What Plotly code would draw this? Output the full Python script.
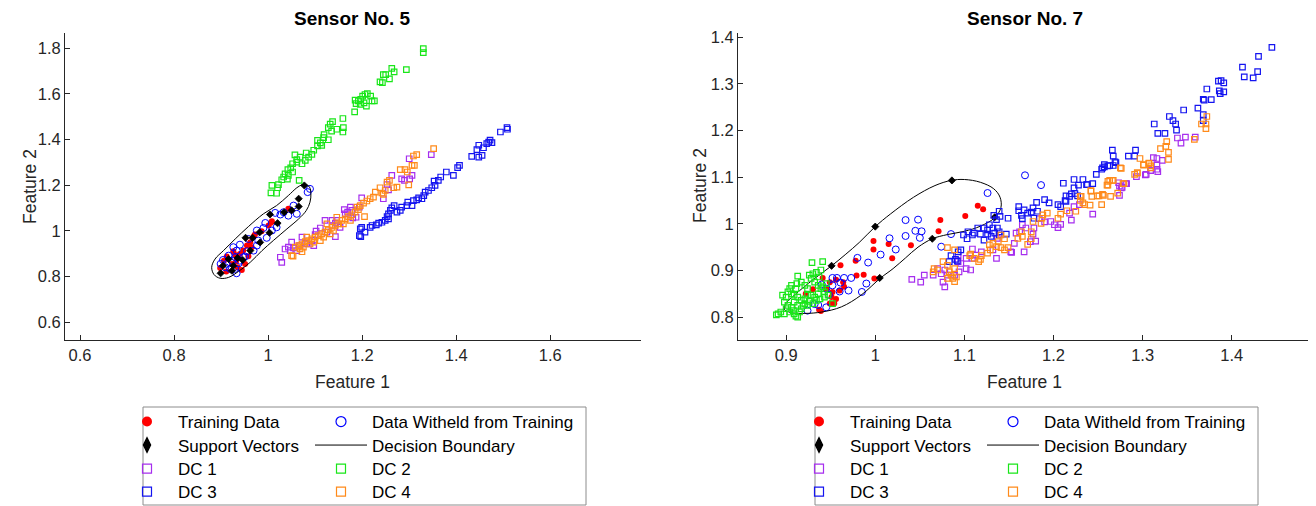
import plotly.graph_objects as go

# The page body adds an 8px margin, so the figure is sized to fill the rest of the window
OFF = 8
W, H = 1316 - OFF, 506 - OFF
FONT = "Liberation Sans, Arial, sans-serif"
TXT = "#262626"


def pxx(p):
    return (p - OFF) / W


def pxy(p):
    return 1 - (p - OFF) / H


# ---------------- Sensor No. 5 (left) ----------------
s5_train = [(1.043,1.097),(1.008,1.043),(1.001,1.024),(0.986,0.999),(0.972,0.984),(0.962,0.951),
            (0.965,0.929),(0.947,0.914),(0.940,0.899),(0.932,0.867),(0.923,0.855),(0.912,0.888),
            (0.906,0.870),(0.926,0.911),(0.955,0.936),(0.898,0.838),(0.911,0.823),(0.935,0.841),
            (0.944,0.829),(0.951,0.856),(0.970,0.978),(1.006,1.036),(0.958,0.889),(0.930,0.895)]
s5_withheld = [(1.089,1.184),(1.084,1.170),(1.054,1.111),(1.061,1.075),(1.043,1.067),(1.033,1.082),
               (1.026,1.072),(1.015,1.079),(1.018,1.016),(1.008,1.002),(0.994,1.035),(0.990,1.013),
               (0.997,0.970),(0.979,0.958),(0.976,0.936),(0.969,0.914),(0.955,0.911),(0.947,0.885),
               (0.940,0.870),(0.933,0.914),(0.930,0.885),(0.923,0.870),(0.916,0.892),(0.912,0.856),
               (0.909,0.841),(0.919,0.834),(0.930,0.834),(0.937,0.858),(0.951,0.888),(0.926,0.929),
               (0.940,0.940),(0.976,1.002),(0.958,0.965),(0.899,0.856),(0.904,0.873),(0.933,0.815)]
s5_sv = [(1.077,1.199),(1.065,1.141),(1.065,1.107),(1.050,1.090),(1.034,1.082),(1.020,1.034),
         (1.004,1.072),(1.003,0.992),(0.982,0.994),(0.967,0.970),(0.952,0.970),(0.983,0.950),
         (0.962,0.914),(0.946,0.873),(0.935,0.882),(0.926,0.848),(0.916,0.877),(0.904,0.848),
         (0.899,0.815),(0.923,0.826)]
s5_boundary = [(1.079,1.204),(1.088,1.192),(1.091,1.163),(1.089,1.126),(1.081,1.089),(1.065,1.053),
               (1.040,1.009),(1.011,0.958),(0.987,0.914),(0.962,0.863),(0.937,0.823),(0.916,0.797),
               (0.898,0.793),(0.885,0.809),(0.880,0.841),(0.887,0.877),(0.905,0.914),(0.930,0.965),
               (0.958,1.019),(0.990,1.075),(1.018,1.111),(1.043,1.155),(1.061,1.189),(1.072,1.202),
               (1.079,1.204)]
s5_dc1 = [(1.347,1.334),(1.300,1.316),(1.263,1.243),(1.306,1.243),(1.301,1.228),(1.284,1.228),
          (1.290,1.221),(1.253,1.203),(1.245,1.141),(1.256,1.180),(1.199,1.145),(1.194,1.104),
          (1.175,1.104),(1.178,1.090),(1.169,1.082),(1.162,1.093),(1.180,1.057),(1.187,1.060),
          (1.146,1.046),(1.143,1.034),(1.153,1.016),(1.136,1.024),(1.121,1.046),(1.111,1.013),
          (1.102,0.999),(1.100,0.984),(1.093,0.958),(1.097,0.936),(1.082,0.943),(1.143,0.975),
          (1.072,0.973),(1.079,0.946),(1.067,0.936),(1.050,0.951),(1.043,0.929),(1.036,0.921),
          (1.047,0.914),(1.026,0.885),(1.029,0.863),(1.061,0.914),(1.054,0.926),(1.164,1.075),
          (1.136,1.046),(1.125,0.995)]
s5_dc2 = [(1.330,1.798),(1.330,1.780),(1.263,1.711),(1.268,1.696),(1.294,1.706),(1.245,1.684),
          (1.250,1.684),(1.258,1.665),(1.238,1.652),(1.243,1.649),(1.211,1.601),(1.206,1.597),
          (1.201,1.590),(1.218,1.590),(1.185,1.572),(1.192,1.569),(1.197,1.576),(1.187,1.557),
          (1.196,1.554),(1.204,1.560),(1.209,1.546),(1.221,1.569),(1.226,1.569),(1.184,1.521),
          (1.159,1.492),(1.132,1.467),(1.137,1.478),(1.128,1.452),(1.135,1.437),(1.146,1.445),
          (1.160,1.452),(1.159,1.433),(1.119,1.421),(1.118,1.408),(1.128,1.399),(1.105,1.396),
          (1.111,1.385),(1.114,1.374),(1.105,1.372),(1.097,1.353),(1.093,1.335),(1.081,1.341),
          (1.086,1.323),(1.068,1.323),(1.079,1.309),(1.072,1.294),(1.057,1.333),(1.061,1.301),
          (1.052,1.294),(1.048,1.276),(1.042,1.268),(1.036,1.250),(1.043,1.243),(1.033,1.236),
          (1.029,1.224),(1.041,1.227),(1.066,1.221),(1.022,1.203),(1.008,1.199),(1.020,1.189),
          (1.006,1.167),(1.018,1.165),(1.052,1.258),(1.061,1.312)]
s5_dc3 = [(1.508,1.452),(1.509,1.445),(1.494,1.433),(1.476,1.386),(1.469,1.389),(1.465,1.382),
          (1.472,1.397),(1.458,1.364),(1.448,1.375),(1.444,1.356),(1.455,1.331),(1.433,1.326),
          (1.448,1.323),(1.407,1.287),(1.403,1.277),(1.394,1.243),(1.379,1.258),(1.367,1.236),
          (1.362,1.221),(1.353,1.218),(1.355,1.199),(1.348,1.189),(1.341,1.177),(1.334,1.170),
          (1.331,1.155),(1.327,1.141),(1.320,1.145),(1.316,1.136),(1.309,1.133),(1.306,1.111),
          (1.297,1.126),(1.295,1.111),(1.284,1.104),(1.281,1.090),(1.274,1.082),(1.268,1.111),
          (1.263,1.101),(1.260,1.090),(1.256,1.075),(1.253,1.063),(1.256,1.053),(1.249,1.046),
          (1.242,1.038),(1.235,1.034),(1.230,1.027),(1.221,1.024),(1.217,1.016),(1.206,0.995),
          (1.199,1.016),(1.196,1.009),(1.194,0.980),(1.197,0.975)]
s5_dc4 = [(1.352,1.360),(1.316,1.334),(1.309,1.328),(1.311,1.287),(1.306,1.287),(1.296,1.258),
          (1.291,1.268),(1.281,1.268),(1.299,1.202),(1.274,1.192),(1.267,1.189),(1.258,1.221),
          (1.253,1.214),(1.249,1.177),(1.242,1.166),(1.245,1.160),(1.238,1.189),(1.228,1.170),
          (1.224,1.148),(1.217,1.141),(1.210,1.131),(1.203,1.122),(1.196,1.111),(1.205,1.063),
          (1.192,1.093),(1.185,1.082),(1.178,1.071),(1.171,1.063),(1.164,1.053),(1.157,1.046),
          (1.150,1.031),(1.143,1.024),(1.136,1.016),(1.128,1.005),(1.121,0.995),(1.114,0.987),
          (1.107,0.980),(1.100,0.973),(1.093,0.965),(1.086,0.958),(1.079,0.954),(1.072,0.943),
          (1.065,0.936),(1.058,0.929),(1.050,0.892),(1.139,1.002),(1.132,0.987),(1.118,0.973),
          (1.111,0.958),(1.097,0.951),(1.089,0.943),(1.075,0.929),(1.068,0.922),(1.082,0.973),
          (1.146,1.060),(1.160,1.031),(1.189,1.104),(1.175,1.046),(1.125,1.031),(1.053,0.890),
          (1.072,0.909)]

# ---------------- Sensor No. 7 (right) ----------------
s7_train = [(1.115,1.039),(1.121,1.031),(1.101,1.017),(1.073,1.008),(1.071,0.984),(1.040,0.954),
            (1.019,0.926),(1.015,0.957),(0.998,0.963),(0.998,0.945),(0.978,0.921),(0.961,0.911),
            (0.979,0.889),(0.987,0.891),(0.999,0.883),(0.941,0.884),(0.956,0.880),(0.949,0.875),
            (0.945,0.861),(0.952,0.854),(0.960,0.857),(0.956,0.839),(0.951,0.843),(0.949,0.829),
            (0.954,0.829),(0.939,0.813),(0.965,0.865),(0.964,0.875),(0.937,0.816),(0.922,0.850),
            (0.930,0.860)]
s7_withheld = [(1.168,1.104),(1.186,1.083),(1.126,1.066),(1.034,1.008),(1.048,1.009),(1.052,0.984),
               (1.045,0.985),(1.050,0.970),(1.034,0.974),(1.016,0.969),(1.023,0.945),(1.006,0.934),
               (0.992,0.917),(0.980,0.927),(1.085,0.978),(1.074,0.951),(0.985,0.854),(0.990,0.872),
               (0.952,0.884),(0.957,0.884),(0.965,0.884),(0.973,0.884),(0.961,0.874),(0.970,0.857),
               (0.960,0.855),(0.952,0.868),(0.945,0.861),(0.936,0.826),(0.945,0.821),(0.924,0.814),
               (0.932,0.828),(0.940,0.870),(0.948,0.848)]
s7_sv = [(1.086,1.093),(1.000,0.994),(0.951,0.910),(1.005,0.884),(1.064,0.968),(1.134,1.014)]
s7_boundary = [(0.921,0.808),(0.940,0.811),(0.962,0.822),(0.984,0.847),(1.006,0.884),(1.020,0.904),
               (1.034,0.927),(1.048,0.950),(1.064,0.968),(1.081,0.977),(1.100,0.984),(1.118,0.995),
               (1.134,1.013),(1.141,1.035),(1.140,1.057),(1.133,1.075),(1.118,1.089),(1.100,1.095),
               (1.085,1.093),(1.067,1.082),(1.043,1.057),(1.017,1.021),(1.000,0.994),(0.982,0.960),
               (0.967,0.935),(0.951,0.910),(0.930,0.880),(0.911,0.850),(0.900,0.830),(0.898,0.817),
               (0.905,0.810),(0.921,0.808)]
s7_dc1 = [(1.339,1.184),(1.348,1.186),(1.359,1.186),(1.343,1.173),(1.312,1.142),(1.316,1.140),
          (1.322,1.136),(1.316,1.126),(1.309,1.114),(1.317,1.112),(1.293,1.101),(1.303,1.105),
          (1.273,1.088),(1.277,1.078),(1.282,1.086),(1.274,1.061),(1.304,1.106),(1.309,1.114),
          (1.316,1.117),(1.281,1.086),(1.274,1.081),(1.276,1.077),(1.244,1.021),(1.229,1.041),
          (1.223,1.037),(1.218,1.023),(1.220,1.008),(1.208,0.999),(1.205,0.992),(1.201,0.998),
          (1.197,1.005),(1.190,1.004),(1.184,1.011),(1.178,0.991),(1.177,0.978),(1.174,0.962),
          (1.180,0.963),(1.167,0.940),(1.162,0.983),(1.158,0.980),(1.156,0.958),(1.153,0.939),
          (1.152,0.940),(1.169,0.991),(1.165,0.998),(1.136,0.926),(1.137,0.969),(1.132,0.944),
          (1.119,0.940),(1.113,0.933),(1.109,0.926),(1.102,0.926),(1.096,0.915),(1.093,0.919),
          (1.102,0.904),(1.107,0.901),(1.094,0.897),(1.089,0.890),(1.078,0.901),(1.074,0.893),
          (1.070,0.904),(1.065,0.890),(1.055,0.890),(1.051,0.875),(1.041,0.881),(1.076,0.875),
          (1.078,0.865),(1.081,0.890),(1.109,0.946),(1.093,0.933)]
s7_dc2 = [(0.929,0.917),(0.941,0.919),(0.913,0.888),(0.926,0.890),(0.930,0.893),(0.934,0.896),
          (0.939,0.901),(0.906,0.868),(0.912,0.872),(0.902,0.854),(0.917,0.875),(0.921,0.868),
          (0.924,0.861),(0.928,0.883),(0.932,0.875),(0.936,0.868),(0.939,0.861),(0.943,0.854),
          (0.936,0.850),(0.932,0.843),(0.928,0.847),(0.924,0.847),(0.921,0.839),(0.917,0.836),
          (0.913,0.843),(0.909,0.847),(0.906,0.850),(0.900,0.843),(0.896,0.847),(0.898,0.832),
          (0.902,0.825),(0.906,0.821),(0.900,0.818),(0.894,0.811),(0.891,0.807),(0.889,0.805),
          (0.898,0.807),(0.904,0.811),(0.908,0.814),(0.909,0.807),(0.911,0.802),(0.913,0.800),
          (0.915,0.811),(0.917,0.818),(0.919,0.825),(0.921,0.829),(0.924,0.825),(0.926,0.834),
          (0.930,0.829),(0.934,0.836),(0.938,0.839),(0.943,0.843),(0.947,0.847),(0.952,0.829),
          (0.941,0.865),(0.945,0.872),(0.937,0.886),(0.909,0.832),(0.913,0.825),(0.911,0.861),
          (0.904,0.861)]
s7_dc3 = [(1.445,1.378),(1.430,1.359),(1.412,1.336),(1.429,1.326),(1.414,1.315),(1.424,1.313),
          (1.385,1.306),(1.388,1.307),(1.391,1.302),(1.372,1.289),(1.386,1.285),(1.391,1.283),
          (1.387,1.279),(1.368,1.267),(1.369,1.265),(1.377,1.266),(1.346,1.244),(1.362,1.248),
          (1.368,1.234),(1.368,1.221),(1.330,1.230),(1.334,1.221),(1.337,1.214),(1.313,1.214),
          (1.338,1.201),(1.317,1.194),(1.325,1.194),(1.266,1.158),(1.292,1.158),(1.267,1.145),
          (1.284,1.145),(1.291,1.145),(1.269,1.133),(1.267,1.125),(1.263,1.125),(1.257,1.127),
          (1.257,1.122),(1.254,1.117),(1.248,1.106),(1.223,1.095),(1.233,1.095),(1.211,1.087),
          (1.228,1.083),(1.237,1.084),(1.244,1.086),(1.223,1.077),(1.220,1.064),(1.214,1.060),
          (1.227,1.060),(1.213,1.050),(1.261,1.124),(1.270,1.131),(1.255,1.120),(1.238,1.084),
          (1.224,1.065),(1.218,1.059),(1.214,1.048),(1.208,1.037),(1.205,1.041),(1.195,1.045),
          (1.190,1.052),(1.181,1.046),(1.182,1.027),(1.177,1.034),(1.175,1.025),(1.171,1.023),
          (1.167,1.030),(1.161,1.037),(1.161,1.028),(1.164,1.018),(1.165,1.011),(1.149,1.012),
          (1.178,1.012),(1.139,1.027),(1.133,1.018),(1.136,1.009),(1.140,1.016),(1.128,0.998),
          (1.132,0.991),(1.126,0.987),(1.122,0.991),(1.137,0.991),(1.139,0.983),(1.134,0.980),
          (1.130,0.973),(1.126,0.978),(1.139,0.976),(1.147,0.978),(1.122,0.965),(1.118,0.978),
          (1.115,0.991),(1.109,0.976),(1.103,0.968),(1.099,0.976),(1.096,0.944),(1.093,0.940),
          (1.085,0.932),(1.083,0.919),(1.104,0.983),(1.111,0.980),(1.092,0.920),(1.090,0.924)]
s7_dc4 = [(1.372,1.230),(1.366,1.214),(1.371,1.214),(1.371,1.204),(1.358,1.181),(1.327,1.176),
          (1.326,1.166),(1.320,1.161),(1.329,1.153),(1.329,1.138),(1.297,1.140),(1.301,1.127),
          (1.307,1.130),(1.309,1.124),(1.275,1.120),(1.294,1.109),(1.263,1.093),(1.267,1.093),
          (1.260,1.083),(1.279,1.086),(1.242,1.070),(1.243,1.059),(1.251,1.060),(1.256,1.061),
          (1.264,1.059),(1.272,1.066),(1.230,1.059),(1.276,1.119),(1.301,1.126),(1.307,1.129),
          (1.309,1.120),(1.294,1.109),(1.291,1.106),(1.261,1.091),(1.266,1.093),(1.261,1.083),
          (1.278,1.086),(1.242,1.071),(1.231,1.059),(1.249,1.060),(1.255,1.063),(1.254,1.041),
          (1.230,1.050),(1.233,1.045),(1.235,1.041),(1.241,1.040),(1.225,1.027),(1.215,1.028),
          (1.208,1.021),(1.205,1.012),(1.193,1.023),(1.188,1.019),(1.186,1.001),(1.177,1.005),
          (1.187,1.012),(1.175,0.983),(1.164,0.983),(1.165,0.973),(1.160,0.969),(1.175,0.968),
          (1.171,0.956),(1.141,0.976),(1.145,0.968),(1.138,0.962),(1.132,0.958),(1.128,0.955),
          (1.129,0.944),(1.126,0.937),(1.119,0.932),(1.118,0.924),(1.116,0.919),(1.111,0.926),
          (1.107,0.935),(1.106,0.932),(1.149,0.949),(1.145,0.944),(1.141,0.949),(1.136,0.951),
          (1.081,0.949),(1.089,0.944),(1.076,0.919),(1.081,0.911),(1.089,0.904),(1.083,0.897),
          (1.085,0.890),(1.087,0.883),(1.091,0.886),(1.089,0.876),(1.081,0.883),(1.070,0.901),
          (1.066,0.904),(1.065,0.897)]

legend_labels = ["Training Data", "Data Witheld from Training", "Support Vectors",
                 "Decision Boundary", "DC 1", "DC 2", "DC 3", "DC 4"]
dc_colors = ["#A62EEE", "#19E619", "#1414F0", "#FF8A1A"]


def xs(pts):
    return [p[0] for p in pts]


def ys(pts):
    return [p[1] for p in pts]


fig = go.Figure()


def add_sensor(xa, ya, train, withheld, sv, boundary, dcs, legend_names):
    fig.add_trace(go.Scatter(x=xs(train), y=ys(train), mode="markers", xaxis=xa, yaxis=ya,
                             marker=dict(symbol="circle", size=6, color="#FF0000"), showlegend=False))
    fig.add_trace(go.Scatter(x=xs(withheld), y=ys(withheld), mode="markers", xaxis=xa, yaxis=ya,
                             marker=dict(symbol="circle-open", size=7, color="#0000FF",
                                         line=dict(width=1)), showlegend=False))
    fig.add_trace(go.Scatter(x=xs(sv), y=ys(sv), mode="markers", xaxis=xa, yaxis=ya,
                             marker=dict(symbol="diamond", size=5.5, color="#000000",
                                         line=dict(width=0.8, color="#000000")), showlegend=False))
    fig.add_trace(go.Scatter(x=xs(boundary), y=ys(boundary), mode="lines", xaxis=xa, yaxis=ya,
                             line=dict(color="#000000", width=1, shape="spline", smoothing=1.0),
                             showlegend=False))
    for pts, col in zip(dcs, dc_colors):
        fig.add_trace(go.Scatter(x=xs(pts), y=ys(pts), mode="markers", xaxis=xa, yaxis=ya,
                                 marker=dict(symbol="square-open", size=5.5, color=col,
                                             line=dict(width=1.2)), showlegend=False))
    # legend entries (legend-only traces carrying legend-sized symbols)
    styles = [
        dict(mode="markers", marker=dict(symbol="circle", size=10, color="#FF0000")),
        dict(mode="markers", marker=dict(symbol="circle-open", size=10, color="#0000FF", line=dict(width=1.2))),
        dict(mode="markers", marker=dict(symbol="diamond-tall", size=10, color="#000000",
                                         line=dict(width=1.5, color="#000000"))),
        dict(mode="lines", line=dict(color="#000000", width=1)),
    ] + [dict(mode="markers", marker=dict(symbol="square-open", size=9, color=c, line=dict(width=1.2)))
         for c in dc_colors]
    for i, (lab, st) in enumerate(zip(legend_labels, styles)):
        fig.add_trace(go.Scatter(x=[None], y=[None], name=lab, xaxis=xa, yaxis=ya,
                                 legend=legend_names[i // 2], showlegend=True,
                                 legendwidth=127 if i % 2 == 0 else 260, **st))


add_sensor("x", "y", s5_train, s5_withheld, s5_sv, s5_boundary,
           [s5_dc1, s5_dc2, s5_dc3, s5_dc4], ["legend", "legend2", "legend3", "legend4"])
add_sensor("x2", "y2", s7_train, s7_withheld, s7_sv, s7_boundary,
           [s7_dc1, s7_dc2, s7_dc3, s7_dc4], ["legend5", "legend6", "legend7", "legend8"])

# ---------------- layout (positions given in window pixels) ----------------
plot_top, plot_bot = 33, 340
ydom = [pxy(plot_bot), pxy(plot_top)]
left_px = (65, 641)
right_px = (738, 1312)

axis_common = dict(showline=True, linecolor=TXT, linewidth=1, mirror=False, ticks="inside",
                   ticklen=5, tickwidth=1, tickcolor=TXT, showgrid=False, zeroline=False,
                   tickfont=dict(family=FONT, size=16.5, color=TXT), tick0=0)

layout = dict(
    width=W, height=H, margin=dict(l=0, r=0, t=0, b=0, autoexpand=False),
    paper_bgcolor="white", plot_bgcolor="white",
    font=dict(family=FONT, color=TXT),
    xaxis=dict(domain=[pxx(left_px[0]), pxx(left_px[1])], range=[0.568, 1.793], dtick=0.2,
               anchor="y", **axis_common),
    yaxis=dict(domain=ydom, range=[0.523, 1.866], dtick=0.2, anchor="x", **axis_common),
    xaxis2=dict(domain=[pxx(right_px[0]), pxx(right_px[1])], range=[0.846, 1.49], dtick=0.1,
                anchor="y2", **axis_common),
    yaxis2=dict(domain=ydom, range=[0.751, 1.409], dtick=0.1, anchor="x2", **axis_common),
)

row_centers = [422, 445.5, 469, 492]
legend_left = [116, 788]
names = ["legend", "legend2", "legend3", "legend4", "legend5", "legend6", "legend7", "legend8"]
for k, nm in enumerate(names):
    side, row = k // 4, k % 4
    layout[nm] = dict(orientation="h", x=pxx(legend_left[side]), xanchor="left",
                      y=pxy(row_centers[row]), yanchor="middle",
                      itemwidth=52, entrywidthmode="pixels",
                      font=dict(family=FONT, size=17, color="#000000"),
                      bgcolor="rgba(0,0,0,0)", borderwidth=0, traceorder="normal")

fig.update_layout(**layout)

for x0, x1 in [(143, 586), (815, 1258)]:
    fig.add_shape(type="rect", xref="paper", yref="paper", x0=pxx(x0), x1=pxx(x1),
                  y0=pxy(505), y1=pxy(407), line=dict(color="#8C8C8C", width=1),
                  fillcolor="rgba(0,0,0,0)", layer="above")

titles = ["Sensor No. 5", "Sensor No. 7"]
for (a, b), t, ylab_x in zip([left_px, right_px], titles, [30, 700]):
    cx = pxx((a + b) / 2)
    fig.add_annotation(text="<b>%s</b>" % t, x=cx, y=pxy(18), xref="paper", yref="paper",
                       showarrow=False, xanchor="center", yanchor="middle",
                       font=dict(family=FONT, size=19, color="#000000"))
    fig.add_annotation(text="Feature 1", x=cx, y=pxy(382), xref="paper", yref="paper",
                       showarrow=False, xanchor="center", yanchor="middle",
                       font=dict(family=FONT, size=17.5, color=TXT))
    fig.add_annotation(text="Feature 2", x=pxx(ylab_x), y=pxy(186), xref="paper", yref="paper",
                       showarrow=False, xanchor="center", yanchor="middle", textangle=-90,
                       font=dict(family=FONT, size=17.5, color=TXT))

fig.write_html("out.html")
